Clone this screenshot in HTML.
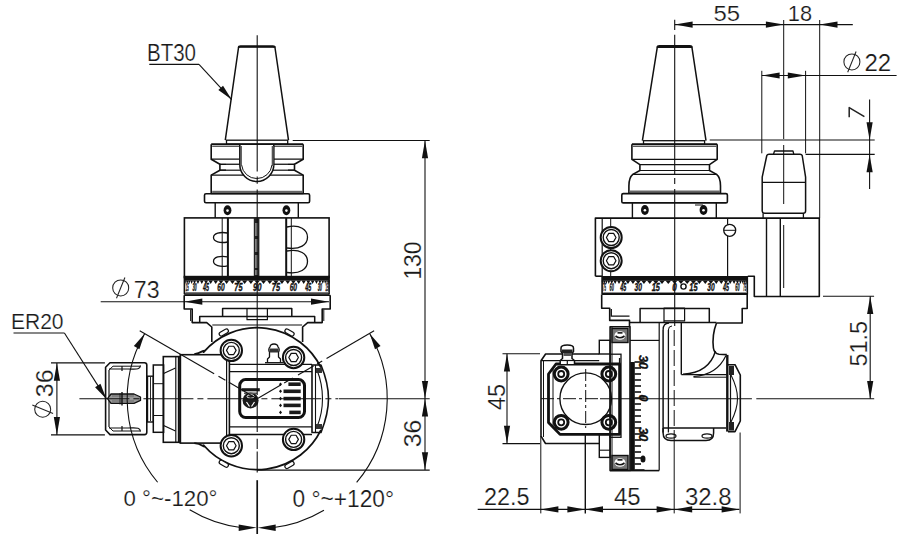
<!DOCTYPE html>
<html><head><meta charset="utf-8"><style>
html,body{margin:0;padding:0;background:#fff;width:904px;height:534px;overflow:hidden}
svg{display:block}
text{font-family:"Liberation Sans",sans-serif}
</style></head><body>
<svg width="904" height="534" viewBox="0 0 904 534">
<rect width="904" height="534" fill="#fff"/>
<path d="M225.30,140.20 L238.60,47.00 L274.90,47.00 L288.50,140.20" stroke="#111" stroke-width="1.5" fill="none" stroke-linejoin="round" />
<path d="M238.6,47.5 Q238.8,46.2 240.5,46.2 L273,46.2 Q274.7,46.2 274.9,47.5" stroke="#111" stroke-width="2.0" fill="none" stroke-linejoin="round" />
<rect x="226.50" y="140.20" width="61.20" height="4.00" rx="0" stroke="#111" stroke-width="1.3" fill="none"/>
<path d="M211.20,144.20 L303.20,144.20" stroke="#111" stroke-width="1.8" fill="none" stroke-linejoin="round" />
<line x1="212.20" y1="146.20" x2="302.20" y2="146.20" stroke="#111" stroke-width="1.0" />
<path d="M211.20,144.20 L211.20,159.20 L219.90,164.30 L219.90,170.20 L211.20,175.10 L211.20,193.50 L303.20,193.50 L303.20,175.10 L294.50,170.20 L294.50,164.30 L303.20,159.20 L303.20,144.20" stroke="#111" stroke-width="1.6" fill="none" stroke-linejoin="round" />
<line x1="211.20" y1="159.20" x2="303.20" y2="159.20" stroke="#111" stroke-width="1.3" />
<line x1="219.90" y1="164.30" x2="294.50" y2="164.30" stroke="#111" stroke-width="1.2" />
<line x1="219.90" y1="170.20" x2="294.50" y2="170.20" stroke="#111" stroke-width="1.2" />
<line x1="211.20" y1="175.10" x2="303.20" y2="175.10" stroke="#111" stroke-width="1.3" />
<rect x="212.20" y="190.80" width="90.00" height="2.70" fill="#666"/>
<rect x="240.50" y="145.00" width="32.50" height="25.00" fill="#fff"/>
<rect x="226.00" y="163.50" width="62.00" height="7.50" fill="#fff"/>
<path d="M239.8,145 L239.8,164.5 A17,17 0 0 0 273.8,164.5 L273.8,145" stroke="#111" stroke-width="1.6" fill="#fff" stroke-linejoin="round" />
<path d="M241.6,165 A15.3,15.3 0 0 0 272.0,165" stroke="#111" stroke-width="1.0" fill="none" stroke-linejoin="round" />
<rect x="239.80" y="146.00" width="2.10" height="20.00" fill="#555"/>
<rect x="271.70" y="146.00" width="2.10" height="20.00" fill="#555"/>
<line x1="219.60" y1="164.30" x2="239.80" y2="164.30" stroke="#111" stroke-width="1.2" />
<line x1="273.80" y1="164.30" x2="294.60" y2="164.30" stroke="#111" stroke-width="1.2" />
<line x1="219.60" y1="170.20" x2="240.50" y2="170.20" stroke="#111" stroke-width="1.2" />
<line x1="273.00" y1="170.20" x2="294.60" y2="170.20" stroke="#111" stroke-width="1.2" />
<rect x="204.50" y="193.70" width="105.10" height="9.10" rx="1.5" stroke="#111" stroke-width="1.6" fill="none"/>
<path d="M215.20,202.80 L215.20,217.90" stroke="#111" stroke-width="1.4" fill="none" stroke-linejoin="round" />
<path d="M298.30,202.80 L298.30,217.90" stroke="#111" stroke-width="1.4" fill="none" stroke-linejoin="round" />
<ellipse cx="227.50" cy="210.30" rx="3.90" ry="5.00" stroke="#111" stroke-width="0" fill="#111"/>
<circle cx="227.50" cy="210.60" r="1.30" stroke="#111" stroke-width="0" fill="#fff"/>
<ellipse cx="286.40" cy="210.30" rx="3.90" ry="5.00" stroke="#111" stroke-width="0" fill="#111"/>
<circle cx="286.40" cy="210.60" r="1.30" stroke="#111" stroke-width="0" fill="#fff"/>
<rect x="184.40" y="217.90" width="144.70" height="59.60" rx="0" stroke="#111" stroke-width="1.6" fill="none"/>
<line x1="222.20" y1="218.00" x2="222.20" y2="276.00" stroke="#111" stroke-width="1.0" />
<line x1="227.90" y1="218.00" x2="227.90" y2="276.00" stroke="#111" stroke-width="2.0" />
<rect x="253.80" y="218.00" width="5.60" height="58.00" fill="#222"/>
<rect x="255.20" y="223.00" width="2.80" height="13.00" fill="#999"/>
<rect x="255.20" y="239.00" width="2.80" height="13.00" fill="#999"/>
<rect x="255.20" y="255.00" width="2.80" height="13.00" fill="#999"/>
<rect x="255.20" y="270.00" width="2.80" height="5.00" fill="#999"/>
<line x1="286.20" y1="218.00" x2="286.20" y2="276.00" stroke="#111" stroke-width="2.0" />
<line x1="291.30" y1="218.00" x2="291.30" y2="276.00" stroke="#111" stroke-width="1.0" />
<path d="M227.5,233.0 C220,231.5 213.5,233.5 213.5,237.5 C213.5,241.5 220,243.5 227.5,242.0" stroke="#111" stroke-width="1.3" fill="none" stroke-linejoin="round" />
<path d="M227.5,256.8 C220,255.3 213.5,257.3 213.5,261.3 C213.5,265.3 220,267.3 227.5,265.8" stroke="#111" stroke-width="1.3" fill="none" stroke-linejoin="round" />
<path d="M287,227 C300,224 307.5,230 307.5,237.3 C307.5,244.6 300,250 287,248" stroke="#111" stroke-width="1.3" fill="none" stroke-linejoin="round" />
<path d="M287,251 C300,248.5 307.5,254 307.5,261.5 C307.5,269 300,274.5 287,272.5" stroke="#111" stroke-width="1.3" fill="none" stroke-linejoin="round" />
<rect x="184.40" y="275.80" width="144.70" height="4.80" fill="#111"/>
<line x1="184.40" y1="275.80" x2="184.40" y2="294.30" stroke="#111" stroke-width="1.6" />
<line x1="329.10" y1="275.80" x2="329.10" y2="294.30" stroke="#111" stroke-width="1.6" />
<path d="M184.52,280.50 L185.73,280.50 L185.13,283.90 Z" fill="#111"/>
<path d="M185.15,280.50 L186.75,280.50 L185.95,283.90 Z" fill="#111"/>
<path d="M186.32,280.50 L188.31,280.50 L187.32,283.90 Z" fill="#111"/>
<path d="M188.03,280.50 L190.40,280.50 L189.21,283.90 Z" fill="#111"/>
<path d="M190.26,280.50 L193.00,280.50 L191.63,283.90 Z" fill="#111"/>
<path d="M192.99,280.50 L196.09,280.50 L194.54,283.90 Z" fill="#111"/>
<path d="M196.22,280.50 L199.65,280.50 L197.93,283.90 Z" fill="#111"/>
<path d="M199.90,280.50 L203.66,280.50 L201.78,283.90 Z" fill="#111"/>
<path d="M204.01,280.50 L208.07,280.50 L206.04,283.90 Z" fill="#111"/>
<path d="M208.53,280.50 L212.86,280.50 L210.69,283.90 Z" fill="#111"/>
<path d="M213.42,280.50 L217.99,280.50 L215.70,283.90 Z" fill="#111"/>
<path d="M218.63,280.50 L223.42,280.50 L221.02,283.90 Z" fill="#111"/>
<path d="M224.14,280.50 L229.11,280.50 L226.62,283.90 Z" fill="#111"/>
<path d="M229.89,280.50 L235.02,280.50 L232.45,283.90 Z" fill="#111"/>
<path d="M235.85,280.50 L241.10,280.50 L238.47,283.90 Z" fill="#111"/>
<path d="M241.97,280.50 L247.30,280.50 L244.64,283.90 Z" fill="#111"/>
<path d="M248.20,280.50 L253.59,280.50 L250.89,283.90 Z" fill="#111"/>
<path d="M254.50,280.50 L259.90,280.50 L257.20,283.90 Z" fill="#111"/>
<path d="M260.81,280.50 L266.20,280.50 L263.51,283.90 Z" fill="#111"/>
<path d="M267.10,280.50 L272.43,280.50 L269.76,283.90 Z" fill="#111"/>
<path d="M273.30,280.50 L278.55,280.50 L275.93,283.90 Z" fill="#111"/>
<path d="M279.38,280.50 L284.51,280.50 L281.95,283.90 Z" fill="#111"/>
<path d="M285.29,280.50 L290.26,280.50 L287.78,283.90 Z" fill="#111"/>
<path d="M290.98,280.50 L295.77,280.50 L293.38,283.90 Z" fill="#111"/>
<path d="M296.41,280.50 L300.98,280.50 L298.70,283.90 Z" fill="#111"/>
<path d="M301.54,280.50 L305.87,280.50 L303.71,283.90 Z" fill="#111"/>
<path d="M306.33,280.50 L310.39,280.50 L308.36,283.90 Z" fill="#111"/>
<path d="M310.74,280.50 L314.50,280.50 L312.62,283.90 Z" fill="#111"/>
<path d="M314.75,280.50 L318.18,280.50 L316.47,283.90 Z" fill="#111"/>
<path d="M318.31,280.50 L321.41,280.50 L319.86,283.90 Z" fill="#111"/>
<path d="M321.40,280.50 L324.14,280.50 L322.77,283.90 Z" fill="#111"/>
<path d="M324.00,280.50 L326.37,280.50 L325.19,283.90 Z" fill="#111"/>
<path d="M326.09,280.50 L328.08,280.50 L327.08,283.90 Z" fill="#111"/>
<path d="M327.65,280.50 L329.25,280.50 L328.45,283.90 Z" fill="#111"/>
<path d="M328.67,280.50 L329.88,280.50 L329.27,283.90 Z" fill="#111"/>
<text x="187.32" y="290.60" font-size="11" text-anchor="middle" textLength="2.97" lengthAdjust="spacingAndGlyphs" fill="#111" stroke="#111" stroke-width="0.35" font-style="italic" font-weight="bold">15</text>
<text x="194.54" y="290.60" font-size="11" text-anchor="middle" textLength="4.25" lengthAdjust="spacingAndGlyphs" fill="#111" stroke="#111" stroke-width="0.35" font-style="italic" font-weight="bold">30</text>
<text x="206.04" y="290.60" font-size="11" text-anchor="middle" textLength="6.01" lengthAdjust="spacingAndGlyphs" fill="#111" stroke="#111" stroke-width="0.35" font-style="italic" font-weight="bold">45</text>
<text x="221.02" y="290.60" font-size="11" text-anchor="middle" textLength="7.36" lengthAdjust="spacingAndGlyphs" fill="#111" stroke="#111" stroke-width="0.35" font-style="italic" font-weight="bold">60</text>
<text x="238.47" y="290.60" font-size="11" text-anchor="middle" textLength="8.21" lengthAdjust="spacingAndGlyphs" fill="#111" stroke="#111" stroke-width="0.35" font-style="italic" font-weight="bold">75</text>
<text x="257.20" y="290.60" font-size="11" text-anchor="middle" textLength="8.50" lengthAdjust="spacingAndGlyphs" fill="#111" stroke="#111" stroke-width="0.35" font-style="italic" font-weight="bold">90</text>
<text x="275.93" y="290.60" font-size="11" text-anchor="middle" textLength="8.21" lengthAdjust="spacingAndGlyphs" fill="#111" stroke="#111" stroke-width="0.35" font-style="italic" font-weight="bold">75</text>
<text x="293.38" y="290.60" font-size="11" text-anchor="middle" textLength="7.36" lengthAdjust="spacingAndGlyphs" fill="#111" stroke="#111" stroke-width="0.35" font-style="italic" font-weight="bold">60</text>
<text x="308.36" y="290.60" font-size="11" text-anchor="middle" textLength="6.01" lengthAdjust="spacingAndGlyphs" fill="#111" stroke="#111" stroke-width="0.35" font-style="italic" font-weight="bold">45</text>
<text x="319.86" y="290.60" font-size="11" text-anchor="middle" textLength="4.25" lengthAdjust="spacingAndGlyphs" fill="#111" stroke="#111" stroke-width="0.35" font-style="italic" font-weight="bold">30</text>
<text x="327.08" y="290.60" font-size="11" text-anchor="middle" textLength="2.97" lengthAdjust="spacingAndGlyphs" fill="#111" stroke="#111" stroke-width="0.35" font-style="italic" font-weight="bold">15</text>
<rect x="185.40" y="292.00" width="142.70" height="1.20" fill="#777"/>
<line x1="184.40" y1="294.10" x2="329.10" y2="294.10" stroke="#111" stroke-width="1.5" />
<path d="M184.20,295.30 L184.20,309.00 L192.20,309.00 L192.20,322.60 L206.70,322.60 L211.80,327.00 L211.80,342.00" stroke="#111" stroke-width="1.6" fill="none" stroke-linejoin="round" />
<path d="M330.20,295.30 L330.20,309.00 L322.20,309.00 L322.20,322.60 L307.70,322.60 L302.60,327.00 L302.60,342.00" stroke="#111" stroke-width="1.6" fill="none" stroke-linejoin="round" />
<line x1="184.20" y1="295.30" x2="330.20" y2="295.30" stroke="#111" stroke-width="1.6" />
<line x1="190.60" y1="309.50" x2="190.60" y2="321.00" stroke="#111" stroke-width="1.0" />
<line x1="323.80" y1="309.50" x2="323.80" y2="321.00" stroke="#111" stroke-width="1.0" />
<path d="M199.70,322.60 L199.70,316.50 L314.70,316.50 L314.70,322.60" stroke="#111" stroke-width="1.5" fill="none" stroke-linejoin="round" />
<path d="M222.60,316.50 L222.60,308.60 L291.80,308.60 L291.80,316.50" stroke="#111" stroke-width="1.5" fill="none" stroke-linejoin="round" />
<path d="M247.00,308.60 L247.00,319.70 L267.40,319.70 L267.40,308.60" stroke="#111" stroke-width="1.2" fill="none" stroke-linejoin="round" />
<line x1="212.30" y1="325.00" x2="302.10" y2="325.00" stroke="#111" stroke-width="1.2" />
<path d="M194.3,354.2 C202,353 206,348 203.62,352.12 A71,71 0 0 1 321.01,367.58" stroke="#111" stroke-width="1.8" fill="none" stroke-linejoin="round" />
<path d="M321.01,429.82 A71,71 0 0 1 203.62,445.28 C206,449 202,443.5 194.3,443.1" stroke="#111" stroke-width="1.8" fill="none" stroke-linejoin="round" />
<rect x="180.30" y="354.70" width="49.10" height="88.40" rx="0" stroke="#111" stroke-width="1.6" fill="none"/>
<line x1="226.60" y1="354.70" x2="226.60" y2="443.10" stroke="#111" stroke-width="1.2" />
<line x1="229.40" y1="364.30" x2="312.00" y2="364.30" stroke="#111" stroke-width="1.3" />
<line x1="229.40" y1="371.60" x2="312.00" y2="371.60" stroke="#111" stroke-width="1.3" />
<line x1="229.40" y1="426.90" x2="312.00" y2="426.90" stroke="#111" stroke-width="1.3" />
<line x1="229.40" y1="434.50" x2="312.00" y2="434.50" stroke="#111" stroke-width="1.3" />
<rect x="163.30" y="356.60" width="17.00" height="85.70" rx="0" stroke="#111" stroke-width="1.6" fill="none"/>
<line x1="175.80" y1="356.60" x2="175.80" y2="442.30" stroke="#111" stroke-width="1.2" />
<line x1="178.80" y1="356.60" x2="178.80" y2="442.30" stroke="#111" stroke-width="2.0" />
<path d="M163.60,373.50 L175.50,368.00" stroke="#111" stroke-width="1.3" fill="none" stroke-linejoin="round" />
<path d="M163.60,425.50 L175.50,431.00" stroke="#111" stroke-width="1.3" fill="none" stroke-linejoin="round" />
<rect x="153.30" y="365.00" width="10.30" height="67.30" rx="0" stroke="#111" stroke-width="1.5" fill="none"/>
<line x1="153.30" y1="383.70" x2="163.60" y2="383.70" stroke="#111" stroke-width="1.0" />
<line x1="153.30" y1="415.50" x2="163.60" y2="415.50" stroke="#111" stroke-width="1.0" />
<rect x="147.50" y="376.20" width="5.80" height="45.80" rx="0" stroke="#111" stroke-width="1.4" fill="none"/>
<line x1="150.50" y1="377.00" x2="150.50" y2="421.00" stroke="#111" stroke-width="0.9" />
<path d="M110,362.7 L144.5,362.7 Q146.8,362.7 146.8,365 L146.8,432.3 Q146.8,434.6 144.5,434.6 L110,434.6 L105.6,430 L105.6,367.3 Z" stroke="#111" stroke-width="1.6" fill="none" stroke-linejoin="round" />
<line x1="109.00" y1="370.00" x2="109.00" y2="427.00" stroke="#111" stroke-width="1.2" />
<path d="M109.00,370.00 L113.00,366.20 L140.50,366.20" stroke="#111" stroke-width="1.0" fill="none" stroke-linejoin="round" />
<path d="M109.00,427.00 L113.00,431.00 L140.50,431.00" stroke="#111" stroke-width="1.0" fill="none" stroke-linejoin="round" />
<path d="M109,369 L128,369 C136,369 140,370 140.5,365.5" stroke="#111" stroke-width="1.2" fill="none" stroke-linejoin="round" />
<path d="M109,428 L128,428 C136,428 140,427 140.5,431.5" stroke="#111" stroke-width="1.2" fill="none" stroke-linejoin="round" />
<line x1="122.00" y1="366.00" x2="122.00" y2="371.00" stroke="#111" stroke-width="1.2" />
<line x1="122.00" y1="426.00" x2="122.00" y2="431.00" stroke="#111" stroke-width="1.2" />
<path d="M107.5,398.7 L111,394 L134,394 L140.5,397 L140.5,400.4 L134,403.3 L111,403.3 Z" stroke="#111" stroke-width="1.3" fill="#999" stroke-linejoin="round" />
<line x1="112.00" y1="396.00" x2="134.00" y2="396.00" stroke="#555" stroke-width="0.7" />
<line x1="112.00" y1="401.00" x2="134.00" y2="401.00" stroke="#555" stroke-width="0.7" />
<line x1="122.00" y1="392.00" x2="122.00" y2="405.50" stroke="#111" stroke-width="1.4" />
<line x1="120.00" y1="393.00" x2="120.00" y2="404.50" stroke="#111" stroke-width="0.8" />
<path d="M312,365 L321,365 C325.5,376 328.5,388 328.5,398.7 C328.5,410 325.5,421 321,432.5 L312,432.5 Z" stroke="#111" stroke-width="1.6" fill="none" stroke-linejoin="round" />
<line x1="315.50" y1="365.00" x2="315.50" y2="432.50" stroke="#111" stroke-width="1.1" />
<path d="M317,370 C321,380 322.5,390 322.5,398.7 C322.5,408 321,417 317,427" stroke="#111" stroke-width="1.1" fill="none" stroke-linejoin="round" />
<rect x="316.00" y="368.00" width="6.00" height="5.00" fill="#333"/>
<rect x="316.00" y="424.00" width="6.00" height="5.00" fill="#333"/>
<rect x="239.70" y="379.60" width="64.80" height="37.90" rx="6" stroke="#111" stroke-width="3.0" fill="none"/>
<circle cx="250.60" cy="400.40" r="8.00" stroke="#111" stroke-width="0" fill="#1a1a1a"/>
<ellipse cx="250.60" cy="396.50" rx="3.50" ry="1.80" stroke="#fff" stroke-width="1.0" fill="none"/>
<path d="M246.5,402 L249.5,406.5 M254.5,402 L251.5,406.5" stroke="#fff" stroke-width="1.2" fill="none" stroke-linejoin="round" />
<rect x="241.50" y="388.20" width="18.30" height="3.10" fill="#1a1a1a"/>
<rect x="244.00" y="392.50" width="13.00" height="1.50" fill="#555"/>
<rect x="288.40" y="382.40" width="12.30" height="3.60" fill="#1a1a1a"/>
<path d="M280.5,382.4 L282,384.2 L280.5,386.0 L279,384.2 Z" fill="#111"/>
<rect x="283.50" y="389.50" width="17.20" height="3.60" fill="#1a1a1a"/>
<path d="M280.5,389.5 L282,391.3 L280.5,393.1 L279,391.3 Z" fill="#111"/>
<rect x="283.50" y="396.80" width="17.20" height="3.60" fill="#1a1a1a"/>
<path d="M280.5,396.8 L282,398.6 L280.5,400.4 L279,398.6 Z" fill="#111"/>
<rect x="283.50" y="403.60" width="17.20" height="3.60" fill="#1a1a1a"/>
<path d="M280.5,403.6 L282,405.4 L280.5,407.2 L279,405.4 Z" fill="#111"/>
<rect x="289.30" y="410.60" width="11.40" height="3.60" fill="#1a1a1a"/>
<path d="M280.5,410.6 L282,412.4 L280.5,414.2 L279,412.4 Z" fill="#111"/>
<circle cx="231.30" cy="350.40" r="10.70" stroke="#111" stroke-width="2.0" fill="#fff"/>
<circle cx="231.30" cy="350.40" r="8.00" stroke="#111" stroke-width="1.4" fill="none"/>
<path d="M236.10,350.40 L233.70,354.56 L228.90,354.56 L226.50,350.40 L228.90,346.24 L233.70,346.24 Z" stroke="#111" stroke-width="1.2" fill="none" stroke-linejoin="round" />
<circle cx="293.60" cy="357.50" r="10.70" stroke="#111" stroke-width="2.0" fill="#fff"/>
<circle cx="293.60" cy="357.50" r="8.00" stroke="#111" stroke-width="1.4" fill="none"/>
<path d="M298.40,357.50 L296.00,361.66 L291.20,361.66 L288.80,357.50 L291.20,353.34 L296.00,353.34 Z" stroke="#111" stroke-width="1.2" fill="none" stroke-linejoin="round" />
<circle cx="231.30" cy="445.70" r="10.70" stroke="#111" stroke-width="2.0" fill="#fff"/>
<circle cx="231.30" cy="445.70" r="8.00" stroke="#111" stroke-width="1.4" fill="none"/>
<path d="M236.10,445.70 L233.70,449.86 L228.90,449.86 L226.50,445.70 L228.90,441.54 L233.70,441.54 Z" stroke="#111" stroke-width="1.2" fill="none" stroke-linejoin="round" />
<circle cx="293.60" cy="439.40" r="10.70" stroke="#111" stroke-width="2.0" fill="#fff"/>
<circle cx="293.60" cy="439.40" r="8.00" stroke="#111" stroke-width="1.4" fill="none"/>
<path d="M298.40,439.40 L296.00,443.56 L291.20,443.56 L288.80,439.40 L291.20,435.24 L296.00,435.24 Z" stroke="#111" stroke-width="1.2" fill="none" stroke-linejoin="round" />
<rect x="218.8" y="330.5" width="10" height="4" rx="2" transform="rotate(-30 223.8 332.5)" stroke="#111" stroke-width="1.2" fill="#fff"/>
<rect x="284.5" y="330.5" width="10" height="4" rx="2" transform="rotate(30 289.5 332.5)" stroke="#111" stroke-width="1.2" fill="#fff"/>
<rect x="218.8" y="461.8" width="10" height="4" rx="2" transform="rotate(30 223.8 463.8)" stroke="#111" stroke-width="1.2" fill="#fff"/>
<rect x="284.5" y="463.0" width="10" height="4" rx="2" transform="rotate(-30 289.5 465)" stroke="#111" stroke-width="1.2" fill="#fff"/>
<path d="M267.5,362.7 L267.5,359 L269.5,357 L269.5,352 C268.5,351 268.5,348 270,347 C270.5,343 277.5,343 278,347 C279.5,348 279.5,351 278.5,352 L278.5,357 L280.5,359 L280.5,362.7" stroke="#111" stroke-width="1.3" fill="#fff" stroke-linejoin="round" />
<rect x="269.50" y="348.50" width="9.00" height="4.00" fill="#333"/>
<line x1="265.00" y1="362.70" x2="283.00" y2="362.70" stroke="#111" stroke-width="1.3" />
<line x1="257.20" y1="35.30" x2="257.20" y2="171.40" stroke="#111" stroke-width="1.1" />
<line x1="257.20" y1="176.50" x2="257.20" y2="183.80" stroke="#111" stroke-width="1.1" />
<line x1="257.20" y1="189.40" x2="257.20" y2="395.00" stroke="#111" stroke-width="1.1" />
<line x1="257.20" y1="402.00" x2="257.20" y2="432.00" stroke="#111" stroke-width="1.1" />
<line x1="257.20" y1="438.80" x2="257.20" y2="449.00" stroke="#111" stroke-width="1.1" />
<line x1="257.20" y1="451.50" x2="257.20" y2="472.60" stroke="#111" stroke-width="1.1" />
<line x1="79.40" y1="398.70" x2="338.00" y2="398.70" stroke="#111" stroke-width="1.1" stroke-dasharray="50,4,6,4"/>
<line x1="257.20" y1="480.20" x2="257.20" y2="534.00" stroke="#111" stroke-width="1.7" />
<line x1="139.70" y1="330.80" x2="214.16" y2="373.83" stroke="#111" stroke-width="1.1" />
<line x1="218.49" y1="376.33" x2="225.42" y2="380.33" stroke="#111" stroke-width="1.1" />
<line x1="228.88" y1="382.33" x2="257.19" y2="398.70" stroke="#111" stroke-width="1.1" />
<line x1="374.10" y1="330.80" x2="326.54" y2="358.42" stroke="#111" stroke-width="1.1" />
<line x1="322.22" y1="360.94" x2="317.03" y2="363.95" stroke="#111" stroke-width="1.1" />
<line x1="313.57" y1="365.96" x2="298.00" y2="375.00" stroke="#111" stroke-width="1.1" />
<line x1="292.82" y1="378.01" x2="284.17" y2="383.04" stroke="#111" stroke-width="1.1" />
<line x1="280.71" y1="385.04" x2="256.76" y2="398.96" stroke="#111" stroke-width="1.1" />
<path d="M144.62,333.70 A130,130 0 0 0 157.61,482.26" stroke="#111" stroke-width="1.1" fill="none" stroke-linejoin="round" />
<path d="M189.66,509.78 A130,130 0 0 0 243.61,527.99" stroke="#111" stroke-width="1.1" fill="none" stroke-linejoin="round" />
<path d="M369.78,333.70 A130,130 0 0 1 356.64,482.44" stroke="#111" stroke-width="1.1" fill="none" stroke-linejoin="round" />
<path d="M323.96,510.25 A130,130 0 0 1 270.79,527.99" stroke="#111" stroke-width="1.1" fill="none" stroke-linejoin="round" />
<path d="M144.62,333.70 L139.39,349.16 L133.85,345.96 Z" fill="#111"/>
<path d="M369.78,333.70 L380.55,345.96 L375.01,349.16 Z" fill="#111"/>
<path d="M256.70,527.70 L238.70,530.90 L238.70,524.50 Z" fill="#111"/>
<path d="M257.70,527.70 L275.70,524.50 L275.70,530.90 Z" fill="#111"/>
<text x="171.50" y="60.50" font-size="23.2" text-anchor="middle" textLength="49.1" lengthAdjust="spacingAndGlyphs" fill="#1a1a1a"  stroke="#fff" stroke-width="0.2">BT30</text>
<line x1="149.30" y1="64.40" x2="199.00" y2="64.40" stroke="#111" stroke-width="1.1" />
<line x1="199.00" y1="64.40" x2="231.60" y2="99.60" stroke="#111" stroke-width="1.1" />
<path d="M231.60,99.60 L218.35,90.08 L223.03,85.72 Z" fill="#111"/>
<text x="37.25" y="328.50" font-size="22.32" text-anchor="middle" textLength="52.61" lengthAdjust="spacingAndGlyphs" fill="#1a1a1a"  stroke="#fff" stroke-width="0.2">ER20</text>
<line x1="13.50" y1="333.00" x2="64.40" y2="333.00" stroke="#111" stroke-width="1.1" />
<line x1="64.40" y1="333.00" x2="106.40" y2="398.90" stroke="#111" stroke-width="1.1" />
<path d="M106.40,398.90 L95.08,387.14 L100.48,383.70 Z" fill="#111"/>
<line x1="51.00" y1="362.90" x2="104.90" y2="362.90" stroke="#111" stroke-width="1.1" />
<line x1="51.00" y1="434.90" x2="104.90" y2="434.90" stroke="#111" stroke-width="1.1" />
<line x1="56.90" y1="362.90" x2="56.90" y2="434.90" stroke="#111" stroke-width="1.1" />
<path d="M56.90,362.90 L60.00,380.70 L53.80,380.70 Z" fill="#111"/>
<path d="M56.90,434.90 L53.80,417.10 L60.00,417.10 Z" fill="#111"/>
<text x="52.50" y="383.25" font-size="23.61" text-anchor="middle" transform="rotate(-90 52.50 383.25)" textLength="27.81" lengthAdjust="spacingAndGlyphs" fill="#1a1a1a"  stroke="#fff" stroke-width="0.2">36</text>
<g transform="rotate(-90 42.7 409.2)">
<circle cx="42.70" cy="409.20" r="8.00" stroke="#222" stroke-width="1.05" fill="none"/>
<line x1="38.50" y1="419.58" x2="46.90" y2="398.82" stroke="#222" stroke-width="1.05" />
</g>
<line x1="100.70" y1="301.70" x2="329.00" y2="301.70" stroke="#111" stroke-width="1.1" />
<path d="M184.50,301.70 L202.30,298.60 L202.30,304.80 Z" fill="#111"/>
<path d="M328.80,301.70 L311.00,304.80 L311.00,298.60 Z" fill="#111"/>
<text x="146.75" y="297.50" font-size="23.93" text-anchor="middle" textLength="25.76" lengthAdjust="spacingAndGlyphs" fill="#1a1a1a"  stroke="#fff" stroke-width="0.2">73</text>
<circle cx="120.70" cy="287.90" r="8.00" stroke="#222" stroke-width="1.05" fill="none"/>
<line x1="116.50" y1="298.28" x2="124.90" y2="277.52" stroke="#222" stroke-width="1.05" />
<line x1="292.70" y1="140.50" x2="429.70" y2="140.50" stroke="#111" stroke-width="1.1" />
<line x1="425.00" y1="140.50" x2="425.00" y2="470.10" stroke="#111" stroke-width="1.1" />
<path d="M425.00,140.50 L428.10,158.30 L421.90,158.30 Z" fill="#111"/>
<path d="M425.00,398.70 L421.90,380.90 L428.10,380.90 Z" fill="#111"/>
<path d="M425.00,398.70 L428.10,416.50 L421.90,416.50 Z" fill="#111"/>
<path d="M425.00,470.10 L421.90,452.30 L428.10,452.30 Z" fill="#111"/>
<line x1="338.70" y1="398.70" x2="429.70" y2="398.70" stroke="#111" stroke-width="1.1" />
<line x1="257.00" y1="470.10" x2="429.70" y2="470.10" stroke="#111" stroke-width="1.1" />
<text x="420.50" y="260.50" font-size="24.58" text-anchor="middle" transform="rotate(-90 420.50 260.50)" textLength="38.2" lengthAdjust="spacingAndGlyphs" fill="#1a1a1a"  stroke="#fff" stroke-width="0.2">130</text>
<text x="420.50" y="433.50" font-size="24.67" text-anchor="middle" transform="rotate(-90 420.50 433.50)" textLength="27.48" lengthAdjust="spacingAndGlyphs" fill="#1a1a1a"  stroke="#fff" stroke-width="0.2">36</text>
<text x="170.50" y="506.00" font-size="22.95" text-anchor="middle" textLength="94.06" lengthAdjust="spacingAndGlyphs" fill="#1a1a1a"  stroke="#fff" stroke-width="0.2">0 °~-120°</text>
<text x="343.25" y="506.50" font-size="23.65" text-anchor="middle" textLength="101.55" lengthAdjust="spacingAndGlyphs" fill="#1a1a1a"  stroke="#fff" stroke-width="0.2">0 °~+120°</text>
<path d="M642.40,140.70 L657.30,47.20 L691.90,47.20 L706.00,140.70" stroke="#111" stroke-width="1.5" fill="none" stroke-linejoin="round" />
<path d="M657.3,47.5 Q657.6,46 659.3,46 L690,46 Q691.6,46 691.9,47.5" stroke="#111" stroke-width="2.2" fill="none" stroke-linejoin="round" />
<rect x="643.50" y="140.70" width="61.10" height="3.60" rx="0" stroke="#111" stroke-width="1.3" fill="none"/>
<path d="M631.90,144.20 L717.20,144.20" stroke="#111" stroke-width="1.8" fill="none" stroke-linejoin="round" />
<line x1="632.90" y1="146.20" x2="716.20" y2="146.20" stroke="#111" stroke-width="1.0" />
<path d="M631.9,144.2 L631.9,159.3 L639.9,164.7 L639.9,170.5 L632.8,174.4 C629.5,177 628.9,182 628.9,186 L628.9,193 L720.5000000000001,193 L720.5000000000001,186 C720.5000000000001,182 719.9000000000001,177 716.6000000000001,174.4 L709.5000000000001,170.5 L709.5000000000001,164.7 L717.2,159.3 L717.2,144.2" stroke="#111" stroke-width="1.6" fill="none" stroke-linejoin="round" />
<line x1="631.90" y1="159.30" x2="717.20" y2="159.30" stroke="#111" stroke-width="1.3" />
<line x1="639.90" y1="164.70" x2="709.50" y2="164.70" stroke="#111" stroke-width="1.2" />
<line x1="639.90" y1="170.50" x2="709.50" y2="170.50" stroke="#111" stroke-width="1.2" />
<line x1="632.80" y1="174.40" x2="716.60" y2="174.40" stroke="#111" stroke-width="1.3" />
<rect x="629.50" y="190.50" width="90.40" height="2.50" fill="#666"/>
<rect x="621.80" y="193.60" width="105.60" height="9.30" rx="1.5" stroke="#111" stroke-width="1.6" fill="none"/>
<line x1="632.40" y1="202.90" x2="632.40" y2="218.00" stroke="#111" stroke-width="1.4" />
<line x1="716.30" y1="202.90" x2="716.30" y2="218.00" stroke="#111" stroke-width="1.4" />
<ellipse cx="644.90" cy="210.00" rx="3.90" ry="5.00" stroke="#111" stroke-width="0" fill="#111"/>
<circle cx="644.90" cy="210.30" r="1.30" stroke="#111" stroke-width="0" fill="#fff"/>
<ellipse cx="703.50" cy="210.00" rx="3.90" ry="5.00" stroke="#111" stroke-width="0" fill="#111"/>
<circle cx="703.50" cy="210.30" r="1.30" stroke="#111" stroke-width="0" fill="#fff"/>
<line x1="695.00" y1="205.00" x2="703.00" y2="205.00" stroke="#111" stroke-width="1.0" />
<path d="M595.40,276.20 L595.40,218.10 L819.30,218.10 L819.30,296.50 L754.30,296.50 L754.30,276.20 L747.80,276.20" stroke="#111" stroke-width="1.6" fill="none" stroke-linejoin="round" />
<line x1="602.20" y1="218.00" x2="602.20" y2="276.00" stroke="#111" stroke-width="1.2" />
<line x1="610.70" y1="218.00" x2="610.70" y2="276.00" stroke="#111" stroke-width="1.0" />
<line x1="727.60" y1="218.00" x2="727.60" y2="276.00" stroke="#111" stroke-width="1.2" />
<circle cx="729.70" cy="230.30" r="6.00" stroke="#111" stroke-width="1.3" fill="#fff"/>
<line x1="724.00" y1="230.30" x2="735.50" y2="230.30" stroke="#111" stroke-width="1.0" />
<circle cx="611.20" cy="237.50" r="10.50" stroke="#111" stroke-width="2.0" fill="#fff"/>
<circle cx="611.20" cy="237.50" r="8.00" stroke="#111" stroke-width="1.4" fill="none"/>
<path d="M616.00,237.50 L613.60,241.66 L608.80,241.66 L606.40,237.50 L608.80,233.34 L613.60,233.34 Z" stroke="#111" stroke-width="1.2" fill="none" stroke-linejoin="round" />
<circle cx="611.20" cy="260.70" r="10.50" stroke="#111" stroke-width="2.0" fill="#fff"/>
<circle cx="611.20" cy="260.70" r="8.00" stroke="#111" stroke-width="1.4" fill="none"/>
<path d="M616.00,260.70 L613.60,264.86 L608.80,264.86 L606.40,260.70 L608.80,256.54 L613.60,256.54 Z" stroke="#111" stroke-width="1.2" fill="none" stroke-linejoin="round" />
<line x1="766.50" y1="218.00" x2="766.50" y2="296.50" stroke="#111" stroke-width="1.4" />
<line x1="780.30" y1="218.00" x2="780.30" y2="296.50" stroke="#111" stroke-width="1.4" />
<line x1="783.70" y1="225.00" x2="783.70" y2="288.00" stroke="#111" stroke-width="1.0" />
<rect x="602.10" y="276.00" width="145.20" height="4.80" fill="#111"/>
<line x1="602.10" y1="276.00" x2="602.10" y2="294.50" stroke="#111" stroke-width="1.6" />
<line x1="747.30" y1="276.00" x2="747.30" y2="294.50" stroke="#111" stroke-width="1.6" />
<path d="M601.68,280.70 L602.88,280.70 L602.28,284.10 Z" fill="#111"/>
<path d="M602.30,280.70 L603.90,280.70 L603.10,284.10 Z" fill="#111"/>
<path d="M603.48,280.70 L605.47,280.70 L604.47,284.10 Z" fill="#111"/>
<path d="M605.19,280.70 L607.56,280.70 L606.38,284.10 Z" fill="#111"/>
<path d="M607.43,280.70 L610.17,280.70 L608.80,284.10 Z" fill="#111"/>
<path d="M610.18,280.70 L613.28,280.70 L611.73,284.10 Z" fill="#111"/>
<path d="M613.41,280.70 L616.85,280.70 L615.13,284.10 Z" fill="#111"/>
<path d="M617.11,280.70 L620.86,280.70 L618.99,284.10 Z" fill="#111"/>
<path d="M621.24,280.70 L625.29,280.70 L623.26,284.10 Z" fill="#111"/>
<path d="M625.77,280.70 L630.10,280.70 L627.93,284.10 Z" fill="#111"/>
<path d="M630.67,280.70 L635.24,280.70 L632.96,284.10 Z" fill="#111"/>
<path d="M635.91,280.70 L640.69,280.70 L638.30,284.10 Z" fill="#111"/>
<path d="M641.43,280.70 L646.40,280.70 L643.92,284.10 Z" fill="#111"/>
<path d="M647.21,280.70 L652.33,280.70 L649.77,284.10 Z" fill="#111"/>
<path d="M653.19,280.70 L658.43,280.70 L655.81,284.10 Z" fill="#111"/>
<path d="M659.33,280.70 L664.66,280.70 L661.99,284.10 Z" fill="#111"/>
<path d="M665.58,280.70 L670.96,280.70 L668.27,284.10 Z" fill="#111"/>
<path d="M671.90,280.70 L677.30,280.70 L674.60,284.10 Z" fill="#111"/>
<path d="M678.24,280.70 L683.62,280.70 L680.93,284.10 Z" fill="#111"/>
<path d="M684.54,280.70 L689.87,280.70 L687.21,284.10 Z" fill="#111"/>
<path d="M690.77,280.70 L696.01,280.70 L693.39,284.10 Z" fill="#111"/>
<path d="M696.87,280.70 L701.99,280.70 L699.43,284.10 Z" fill="#111"/>
<path d="M702.80,280.70 L707.77,280.70 L705.28,284.10 Z" fill="#111"/>
<path d="M708.51,280.70 L713.29,280.70 L710.90,284.10 Z" fill="#111"/>
<path d="M713.96,280.70 L718.53,280.70 L716.24,284.10 Z" fill="#111"/>
<path d="M719.10,280.70 L723.43,280.70 L721.27,284.10 Z" fill="#111"/>
<path d="M723.91,280.70 L727.96,280.70 L725.94,284.10 Z" fill="#111"/>
<path d="M728.34,280.70 L732.09,280.70 L730.21,284.10 Z" fill="#111"/>
<path d="M732.35,280.70 L735.79,280.70 L734.07,284.10 Z" fill="#111"/>
<path d="M735.92,280.70 L739.02,280.70 L737.47,284.10 Z" fill="#111"/>
<path d="M739.03,280.70 L741.77,280.70 L740.40,284.10 Z" fill="#111"/>
<path d="M741.64,280.70 L744.01,280.70 L742.82,284.10 Z" fill="#111"/>
<path d="M743.73,280.70 L745.72,280.70 L744.73,284.10 Z" fill="#111"/>
<path d="M745.30,280.70 L746.90,280.70 L746.10,284.10 Z" fill="#111"/>
<path d="M746.32,280.70 L747.52,280.70 L746.92,284.10 Z" fill="#111"/>
<text x="604.47" y="290.80" font-size="11" text-anchor="middle" textLength="2.97" lengthAdjust="spacingAndGlyphs" fill="#111" stroke="#111" stroke-width="0.35" font-style="italic" font-weight="bold">75</text>
<text x="611.73" y="290.80" font-size="11" text-anchor="middle" textLength="4.25" lengthAdjust="spacingAndGlyphs" fill="#111" stroke="#111" stroke-width="0.35" font-style="italic" font-weight="bold">60</text>
<text x="623.26" y="290.80" font-size="11" text-anchor="middle" textLength="6.01" lengthAdjust="spacingAndGlyphs" fill="#111" stroke="#111" stroke-width="0.35" font-style="italic" font-weight="bold">45</text>
<text x="638.30" y="290.80" font-size="11" text-anchor="middle" textLength="7.36" lengthAdjust="spacingAndGlyphs" fill="#111" stroke="#111" stroke-width="0.35" font-style="italic" font-weight="bold">30</text>
<text x="655.81" y="290.80" font-size="11" text-anchor="middle" textLength="8.21" lengthAdjust="spacingAndGlyphs" fill="#111" stroke="#111" stroke-width="0.35" font-style="italic" font-weight="bold">15</text>
<text x="674.60" y="290.80" font-size="11" text-anchor="middle" textLength="4.50" lengthAdjust="spacingAndGlyphs" fill="#111" stroke="#111" stroke-width="0.35" font-style="italic" font-weight="bold">0</text>
<text x="693.39" y="290.80" font-size="11" text-anchor="middle" textLength="8.21" lengthAdjust="spacingAndGlyphs" fill="#111" stroke="#111" stroke-width="0.35" font-style="italic" font-weight="bold">15</text>
<text x="710.90" y="290.80" font-size="11" text-anchor="middle" textLength="7.36" lengthAdjust="spacingAndGlyphs" fill="#111" stroke="#111" stroke-width="0.35" font-style="italic" font-weight="bold">30</text>
<text x="725.94" y="290.80" font-size="11" text-anchor="middle" textLength="6.01" lengthAdjust="spacingAndGlyphs" fill="#111" stroke="#111" stroke-width="0.35" font-style="italic" font-weight="bold">45</text>
<text x="737.47" y="290.80" font-size="11" text-anchor="middle" textLength="4.25" lengthAdjust="spacingAndGlyphs" fill="#111" stroke="#111" stroke-width="0.35" font-style="italic" font-weight="bold">60</text>
<text x="744.73" y="290.80" font-size="11" text-anchor="middle" textLength="2.97" lengthAdjust="spacingAndGlyphs" fill="#111" stroke="#111" stroke-width="0.35" font-style="italic" font-weight="bold">75</text>
<rect x="603.10" y="292.20" width="143.20" height="1.20" fill="#777"/>
<line x1="602.10" y1="294.30" x2="747.30" y2="294.30" stroke="#111" stroke-width="1.5" />
<circle cx="683.50" cy="286.50" r="2.60" stroke="#111" stroke-width="1.4" fill="none"/>
<path d="M601.70,294.60 L601.70,308.20 L609.70,308.20 L609.70,320.40 L629.50,320.40 L629.50,327.00" stroke="#111" stroke-width="1.6" fill="none" stroke-linejoin="round" />
<path d="M611.30,309.00 L611.30,316.20 L629.50,316.20" stroke="#111" stroke-width="1.3" fill="none" stroke-linejoin="round" />
<line x1="595.40" y1="276.20" x2="602.20" y2="276.20" stroke="#111" stroke-width="1.6" />
<path d="M747.20,293.40 L747.20,308.50 L742.20,308.50 L742.20,323.00 L716.50,323.00" stroke="#111" stroke-width="1.6" fill="none" stroke-linejoin="round" />
<line x1="602.20" y1="293.80" x2="747.20" y2="293.80" stroke="#111" stroke-width="1.5" />
<path d="M640.10,322.50 L640.10,308.40 L709.30,308.40 L709.30,322.50" stroke="#111" stroke-width="1.5" fill="none" stroke-linejoin="round" />
<path d="M664.00,323.00 L664.00,308.10 L684.60,308.10 L684.60,320.90 L664.00,320.90" stroke="#111" stroke-width="1.2" fill="none" stroke-linejoin="round" />
<line x1="629.50" y1="322.50" x2="716.50" y2="322.50" stroke="#111" stroke-width="1.5" />
<path d="M762.2,211 L762.2,177.2 L766.8,155.5 Q767.2,154.3 769,154.3 L800,154.3 Q801.8,154.3 802.2,155.5 L805.6,177.2 L805.6,211 Q805.6,213.3 803,213.3 L765,213.3 Q762.2,213.3 762.2,211 Z" stroke="#111" stroke-width="1.5" fill="none" stroke-linejoin="round" />
<path d="M763.10,213.30 L763.10,218.10" stroke="#111" stroke-width="1.3" fill="none" stroke-linejoin="round" />
<path d="M803.40,213.30 L803.40,218.10" stroke="#111" stroke-width="1.3" fill="none" stroke-linejoin="round" />
<line x1="762.00" y1="182.30" x2="805.80" y2="182.30" stroke="#111" stroke-width="1.2" />
<path d="M773.5,154.3 L774.5,151 L793,151 L793.8,154.3" stroke="#111" stroke-width="1.3" fill="none" stroke-linejoin="round" />
<line x1="783.70" y1="20.00" x2="783.70" y2="139.00" stroke="#111" stroke-width="1.0" />
<line x1="783.70" y1="145.00" x2="783.70" y2="204.00" stroke="#111" stroke-width="1.0" />
<line x1="819.70" y1="20.00" x2="819.70" y2="218.00" stroke="#111" stroke-width="1.0" />
<line x1="674.80" y1="24.60" x2="783.70" y2="24.60" stroke="#111" stroke-width="1.1" />
<line x1="783.70" y1="24.60" x2="852.80" y2="24.60" stroke="#111" stroke-width="1.1" />
<path d="M674.80,24.60 L692.60,21.50 L692.60,27.70 Z" fill="#111"/>
<path d="M783.70,24.60 L765.90,27.70 L765.90,21.50 Z" fill="#111"/>
<path d="M819.70,24.60 L837.50,21.50 L837.50,27.70 Z" fill="#111"/>
<text x="726.75" y="21.00" font-size="21.71" text-anchor="middle" textLength="26.65" lengthAdjust="spacingAndGlyphs" fill="#1a1a1a"  stroke="#fff" stroke-width="0.2">55</text>
<text x="800.00" y="21.00" font-size="21.71" text-anchor="middle" textLength="24.23" lengthAdjust="spacingAndGlyphs" fill="#1a1a1a"  stroke="#fff" stroke-width="0.2">18</text>
<line x1="761.80" y1="70.80" x2="761.80" y2="153.30" stroke="#111" stroke-width="1.0" />
<line x1="805.60" y1="70.80" x2="805.60" y2="153.30" stroke="#111" stroke-width="1.0" />
<line x1="761.80" y1="75.50" x2="896.60" y2="75.50" stroke="#111" stroke-width="1.1" />
<path d="M761.80,75.50 L779.60,72.40 L779.60,78.60 Z" fill="#111"/>
<path d="M805.60,75.50 L787.80,78.60 L787.80,72.40 Z" fill="#111"/>
<text x="877.75" y="71.00" font-size="23.09" text-anchor="middle" textLength="26.75" lengthAdjust="spacingAndGlyphs" fill="#1a1a1a"  stroke="#fff" stroke-width="0.2">22</text>
<circle cx="851.90" cy="61.90" r="8.00" stroke="#222" stroke-width="1.05" fill="none"/>
<line x1="847.70" y1="72.28" x2="856.10" y2="51.52" stroke="#222" stroke-width="1.05" />
<line x1="709.70" y1="140.00" x2="874.70" y2="140.00" stroke="#111" stroke-width="1.1" />
<line x1="805.60" y1="154.40" x2="874.70" y2="154.40" stroke="#111" stroke-width="1.1" />
<line x1="869.60" y1="99.40" x2="869.60" y2="189.00" stroke="#111" stroke-width="1.1" />
<path d="M869.60,140.00 L866.50,122.20 L872.70,122.20 Z" fill="#111"/>
<path d="M869.60,154.40 L872.70,172.20 L866.50,172.20 Z" fill="#111"/>
<path d="M849.2,117.2 L849.2,107.6 L864.4,116.6" stroke="#222" stroke-width="1.5" fill="none" stroke-linejoin="round" />
<line x1="823.00" y1="296.20" x2="874.10" y2="296.20" stroke="#111" stroke-width="1.1" />
<line x1="756.30" y1="398.70" x2="874.20" y2="398.70" stroke="#111" stroke-width="1.1" />
<line x1="870.20" y1="296.20" x2="870.20" y2="398.70" stroke="#111" stroke-width="1.1" />
<path d="M870.20,296.20 L873.30,314.00 L867.10,314.00 Z" fill="#111"/>
<path d="M870.20,398.70 L867.10,380.90 L873.30,380.90 Z" fill="#111"/>
<text x="866.50" y="343.75" font-size="23.61" text-anchor="middle" transform="rotate(-90 866.50 343.75)" textLength="45.65" lengthAdjust="spacingAndGlyphs" fill="#1a1a1a"  stroke="#fff" stroke-width="0.2">51.5</text>
<path d="M599.2,354 L545.6,354 L541,360.7 L541,436.2 L545.5,443.5 L600,443.5" stroke="#111" stroke-width="1.6" fill="none" stroke-linejoin="round" />
<line x1="541.00" y1="360.70" x2="599.20" y2="360.70" stroke="#111" stroke-width="1.3" />
<line x1="543.50" y1="361.00" x2="543.50" y2="437.00" stroke="#111" stroke-width="1.0" />
<path d="M556,364 L619.6,364 L619.6,434.4 L560,434.4 L548.5,422.5 L548.5,374 Z" stroke="#111" stroke-width="2.8" fill="none" stroke-linejoin="round" />
<path d="M553,368 L553,427" stroke="#111" stroke-width="1.0" fill="none" stroke-linejoin="round" />
<circle cx="585.70" cy="398.70" r="25.80" stroke="#111" stroke-width="1.4" fill="none"/>
<line x1="541.00" y1="398.70" x2="600.00" y2="398.70" stroke="#111" stroke-width="1.0" stroke-dasharray="13,3,3,3"/>
<line x1="585.70" y1="369.00" x2="585.70" y2="428.00" stroke="#111" stroke-width="1.0" stroke-dasharray="12,3,3,3"/>
<circle cx="561.20" cy="374.00" r="6.90" stroke="#111" stroke-width="3.0" fill="#fff"/>
<circle cx="561.20" cy="374.00" r="3.00" stroke="#111" stroke-width="1.8" fill="none"/>
<circle cx="608.80" cy="374.00" r="6.90" stroke="#111" stroke-width="3.0" fill="#fff"/>
<circle cx="608.80" cy="374.00" r="3.00" stroke="#111" stroke-width="1.8" fill="none"/>
<circle cx="561.20" cy="422.30" r="6.90" stroke="#111" stroke-width="3.0" fill="#fff"/>
<circle cx="561.20" cy="422.30" r="3.00" stroke="#111" stroke-width="1.8" fill="none"/>
<circle cx="608.80" cy="422.30" r="6.90" stroke="#111" stroke-width="3.0" fill="#fff"/>
<circle cx="608.80" cy="422.30" r="3.00" stroke="#111" stroke-width="1.8" fill="none"/>
<path d="M560.2,364 L560.2,360.5 L562.5,358.5 L562.5,353.5 L561,351.5 L561,348 C561,344 573.5,344 573.5,348 L573.5,351.5 L572,353.5 L572,358.5 L574.5,360.5 L574.5,364" stroke="#111" stroke-width="1.5" fill="#fff" stroke-linejoin="round" />
<rect x="562.00" y="349.50" width="10.50" height="3.50" fill="#222"/>
<rect x="563.50" y="353.00" width="7.50" height="3.00" fill="#555"/>
<line x1="567.30" y1="360.50" x2="567.30" y2="364.00" stroke="#111" stroke-width="1.2" />
<line x1="561.00" y1="360.50" x2="574.00" y2="360.50" stroke="#111" stroke-width="1.2" />
<rect x="599.30" y="340.30" width="10.80" height="13.70" rx="0" stroke="#111" stroke-width="1.4" fill="none"/>
<rect x="599.30" y="434.40" width="10.80" height="23.00" rx="0" stroke="#111" stroke-width="1.4" fill="none"/>
<line x1="599.30" y1="450.20" x2="610.10" y2="450.20" stroke="#111" stroke-width="1.1" />
<line x1="619.60" y1="358.00" x2="619.60" y2="364.00" stroke="#111" stroke-width="1.4" />
<rect x="610.10" y="354.20" width="10.90" height="83.10" rx="0" stroke="#111" stroke-width="1.3" fill="none"/>
<path d="M610.1,326.8 L630,326.8 L630,470.6 L610.1,470.6 Z" stroke="#111" stroke-width="1.6" fill="none" stroke-linejoin="round" />
<line x1="612.00" y1="327.00" x2="612.00" y2="470.00" stroke="#111" stroke-width="1.0" />
<rect x="612.00" y="328.50" width="16.00" height="14.00" rx="0" stroke="#111" stroke-width="1.4" fill="#777"/>
<ellipse cx="620.00" cy="335.50" rx="5.50" ry="4.20" stroke="#111" stroke-width="0" fill="#fff"/>
<path d="M615.5,336.0 Q620,339.5 624.5,336.0" stroke="#111" stroke-width="1.6" fill="none" stroke-linejoin="round" />
<rect x="617.50" y="332.00" width="5.00" height="1.70" fill="#222"/>
<rect x="612.00" y="455.50" width="16.00" height="14.00" rx="0" stroke="#111" stroke-width="1.4" fill="#777"/>
<ellipse cx="620.00" cy="462.50" rx="5.50" ry="4.20" stroke="#111" stroke-width="0" fill="#fff"/>
<path d="M615.5,463.0 Q620,466.5 624.5,463.0" stroke="#111" stroke-width="1.6" fill="none" stroke-linejoin="round" />
<rect x="617.50" y="459.00" width="5.00" height="1.70" fill="#222"/>
<rect x="630.20" y="362.00" width="4.60" height="108.60" fill="#111"/>
<line x1="634.50" y1="362.00" x2="644.50" y2="362.00" stroke="#111" stroke-width="1.6" />
<line x1="634.50" y1="368.00" x2="641.00" y2="368.00" stroke="#111" stroke-width="1.6" />
<line x1="634.50" y1="374.00" x2="641.00" y2="374.00" stroke="#111" stroke-width="1.6" />
<line x1="634.50" y1="380.00" x2="641.00" y2="380.00" stroke="#111" stroke-width="1.6" />
<line x1="634.50" y1="386.00" x2="641.00" y2="386.00" stroke="#111" stroke-width="1.6" />
<line x1="634.50" y1="392.00" x2="641.00" y2="392.00" stroke="#111" stroke-width="1.6" />
<line x1="634.50" y1="398.00" x2="644.50" y2="398.00" stroke="#111" stroke-width="1.6" />
<line x1="634.50" y1="404.00" x2="641.00" y2="404.00" stroke="#111" stroke-width="1.6" />
<line x1="634.50" y1="410.00" x2="641.00" y2="410.00" stroke="#111" stroke-width="1.6" />
<line x1="634.50" y1="416.00" x2="641.00" y2="416.00" stroke="#111" stroke-width="1.6" />
<line x1="634.50" y1="422.00" x2="641.00" y2="422.00" stroke="#111" stroke-width="1.6" />
<line x1="634.50" y1="428.00" x2="641.00" y2="428.00" stroke="#111" stroke-width="1.6" />
<line x1="634.50" y1="434.00" x2="644.50" y2="434.00" stroke="#111" stroke-width="1.6" />
<line x1="634.50" y1="440.00" x2="641.00" y2="440.00" stroke="#111" stroke-width="1.6" />
<line x1="634.50" y1="446.00" x2="641.00" y2="446.00" stroke="#111" stroke-width="1.6" />
<line x1="634.50" y1="452.00" x2="641.00" y2="452.00" stroke="#111" stroke-width="1.6" />
<line x1="634.50" y1="458.00" x2="641.00" y2="458.00" stroke="#111" stroke-width="1.6" />
<line x1="634.50" y1="464.00" x2="641.00" y2="464.00" stroke="#111" stroke-width="1.6" />
<line x1="634.50" y1="470.00" x2="644.50" y2="470.00" stroke="#111" stroke-width="1.6" />
<text x="643.20" y="362.00" font-size="12.5" text-anchor="middle" transform="rotate(90 643.2 362)" dy="4.5" fill="#111" stroke="#111" stroke-width="0.3" font-weight="bold" font-style="italic">30</text>
<text x="643.20" y="398.00" font-size="12.5" text-anchor="middle" transform="rotate(90 643.2 398)" dy="4.5" fill="#111" stroke="#111" stroke-width="0.3" font-weight="bold" font-style="italic">0</text>
<text x="643.20" y="434.20" font-size="12.5" text-anchor="middle" transform="rotate(90 643.2 434.2)" dy="4.5" fill="#111" stroke="#111" stroke-width="0.3" font-weight="bold" font-style="italic">30</text>
<ellipse cx="643.00" cy="459.00" rx="2.50" ry="3.50" stroke="#111" stroke-width="0" fill="#111"/>
<line x1="630.00" y1="470.60" x2="659.20" y2="470.60" stroke="#111" stroke-width="1.6" />
<line x1="659.20" y1="323.00" x2="659.20" y2="470.60" stroke="#111" stroke-width="1.2" />
<line x1="663.10" y1="330.00" x2="663.10" y2="432.50" stroke="#111" stroke-width="1.5" />
<line x1="668.40" y1="330.00" x2="668.40" y2="432.50" stroke="#111" stroke-width="1.3" />
<path d="M663.1,330 Q663.1,323 669,323" stroke="#111" stroke-width="1.3" fill="none" stroke-linejoin="round" />
<path d="M668.4,330 Q668.4,326 672,326" stroke="#111" stroke-width="1.0" fill="none" stroke-linejoin="round" />
<line x1="681.30" y1="323.00" x2="681.30" y2="374.40" stroke="#111" stroke-width="1.4" />
<path d="M716.5,323 C713,332 712.8,343 713.4,348 C714,352 716,353.8 719,354.2 L726.8,354.6" stroke="#111" stroke-width="1.6" fill="none" stroke-linejoin="round" />
<path d="M715.5,351 Q709,373 683,374.2" stroke="#111" stroke-width="1.4" fill="none" stroke-linejoin="round" />
<path d="M726,355.5 Q717,375 693.5,376.5" stroke="#111" stroke-width="1.2" fill="none" stroke-linejoin="round" />
<line x1="681.30" y1="374.60" x2="726.80" y2="374.60" stroke="#111" stroke-width="1.3" />
<line x1="693.50" y1="377.20" x2="726.80" y2="377.20" stroke="#111" stroke-width="1.0" />
<line x1="630.00" y1="340.40" x2="659.20" y2="340.40" stroke="#111" stroke-width="1.2" />
<line x1="663.10" y1="428.00" x2="726.00" y2="428.00" stroke="#111" stroke-width="1.3" />
<path d="M663.1,428 L663.1,433 Q663.1,440.4 671,440.4 L706,440.4 Q713.6,440.4 713.6,433 L713.6,428" stroke="#111" stroke-width="1.5" fill="none" stroke-linejoin="round" />
<ellipse cx="671.00" cy="436.00" rx="5.00" ry="2.20" stroke="#111" stroke-width="1.2" fill="none"/>
<ellipse cx="707.00" cy="436.00" rx="5.00" ry="2.20" stroke="#111" stroke-width="1.2" fill="none"/>
<line x1="727.30" y1="354.90" x2="727.30" y2="431.60" stroke="#111" stroke-width="2.4" />
<path d="M728,364.7 L735,364.7 L740.3,375 L740.3,421 L735,431.6 L728,431.6" stroke="#111" stroke-width="1.6" fill="none" stroke-linejoin="round" />
<path d="M731,375 C736,385 737.5,392 737.5,398.5 C737.5,405 736,412 731,422" stroke="#111" stroke-width="1.1" fill="none" stroke-linejoin="round" />
<line x1="730.50" y1="366.00" x2="730.50" y2="430.00" stroke="#111" stroke-width="1.2" />
<rect x="729.00" y="366.00" width="5.00" height="9.00" fill="#222"/>
<rect x="729.00" y="422.00" width="5.00" height="8.50" fill="#222"/>
<line x1="674.70" y1="19.80" x2="674.70" y2="30.10" stroke="#111" stroke-width="1.1" />
<line x1="674.70" y1="34.80" x2="674.70" y2="174.50" stroke="#111" stroke-width="1.1" />
<line x1="674.70" y1="178.00" x2="674.70" y2="184.00" stroke="#111" stroke-width="1.1" />
<line x1="674.70" y1="189.00" x2="674.70" y2="326.00" stroke="#111" stroke-width="1.1" />
<line x1="674.20" y1="330.00" x2="674.20" y2="440.00" stroke="#111" stroke-width="1.0" stroke-dasharray="16,4"/>
<line x1="600.00" y1="398.70" x2="751.90" y2="398.70" stroke="#111" stroke-width="1.1" />
<line x1="502.50" y1="353.80" x2="540.00" y2="353.80" stroke="#111" stroke-width="1.1" />
<line x1="502.50" y1="443.60" x2="540.00" y2="443.60" stroke="#111" stroke-width="1.1" />
<line x1="507.00" y1="353.80" x2="507.00" y2="443.60" stroke="#111" stroke-width="1.1" />
<path d="M507.00,353.80 L510.10,371.60 L503.90,371.60 Z" fill="#111"/>
<path d="M507.00,443.60 L503.90,425.80 L510.10,425.80 Z" fill="#111"/>
<text x="504.50" y="397.00" font-size="23.82" text-anchor="middle" transform="rotate(-90 504.50 397.00)" textLength="26.11" lengthAdjust="spacingAndGlyphs" fill="#1a1a1a"  stroke="#fff" stroke-width="0.2">45</text>
<line x1="540.80" y1="436.00" x2="540.80" y2="513.40" stroke="#111" stroke-width="1.0" />
<line x1="585.30" y1="434.40" x2="585.30" y2="513.40" stroke="#111" stroke-width="1.4" />
<line x1="674.20" y1="440.40" x2="674.20" y2="513.40" stroke="#111" stroke-width="1.0" />
<line x1="740.10" y1="432.50" x2="740.10" y2="513.40" stroke="#111" stroke-width="1.0" />
<line x1="477.70" y1="509.40" x2="739.40" y2="509.40" stroke="#111" stroke-width="1.1" />
<path d="M540.60,509.40 L558.40,506.30 L558.40,512.50 Z" fill="#111"/>
<path d="M585.20,509.40 L567.40,512.50 L567.40,506.30 Z" fill="#111"/>
<path d="M585.20,509.40 L603.00,506.30 L603.00,512.50 Z" fill="#111"/>
<path d="M674.40,509.40 L656.60,512.50 L656.60,506.30 Z" fill="#111"/>
<path d="M674.40,509.40 L692.20,506.30 L692.20,512.50 Z" fill="#111"/>
<path d="M739.40,509.40 L721.60,512.50 L721.60,506.30 Z" fill="#111"/>
<text x="506.75" y="505.00" font-size="23.93" text-anchor="middle" textLength="45.57" lengthAdjust="spacingAndGlyphs" fill="#1a1a1a"  stroke="#fff" stroke-width="0.2">22.5</text>
<text x="627.25" y="505.00" font-size="24.67" text-anchor="middle" textLength="26.65" lengthAdjust="spacingAndGlyphs" fill="#1a1a1a"  stroke="#fff" stroke-width="0.2">45</text>
<text x="708.25" y="505.00" font-size="24.67" text-anchor="middle" textLength="46.63" lengthAdjust="spacingAndGlyphs" fill="#1a1a1a"  stroke="#fff" stroke-width="0.2">32.8</text>
</svg></body></html>
